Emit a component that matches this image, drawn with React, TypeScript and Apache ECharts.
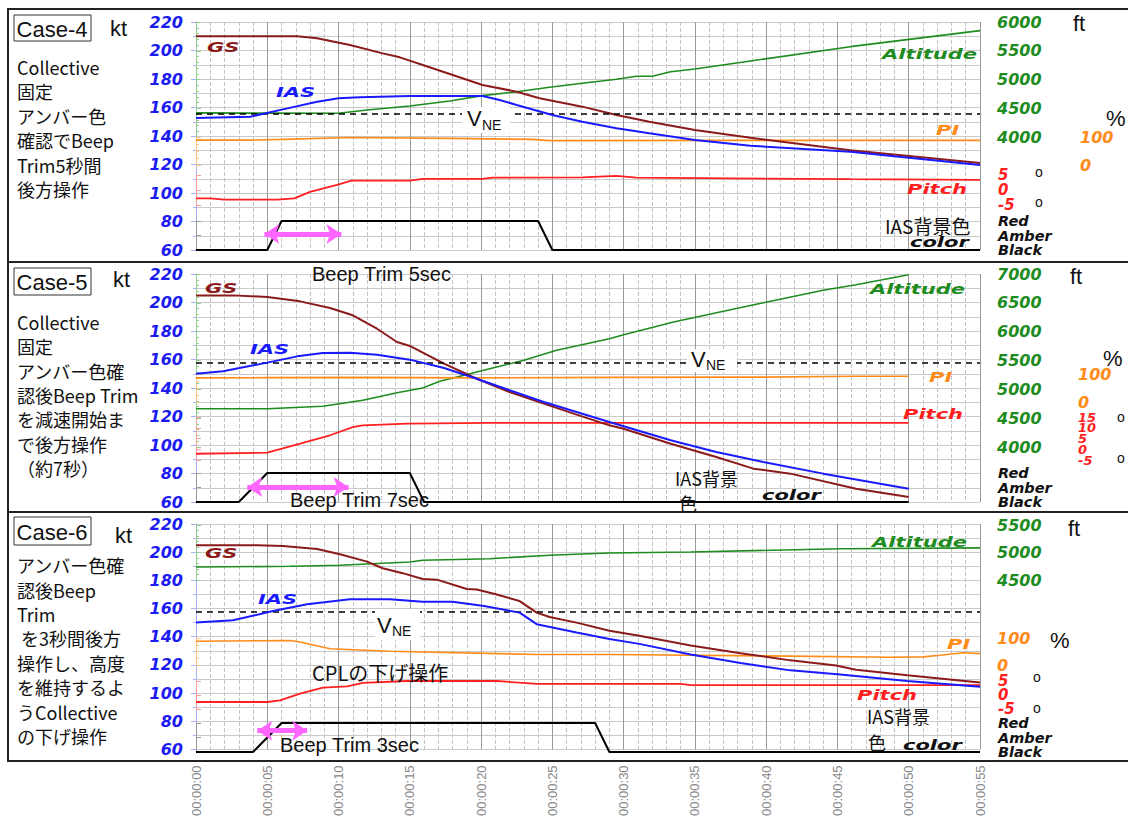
import React, { useEffect, useRef } from "react";
import * as echarts from "echarts";

// ---------- axes ----------
const TIME_MIN = 0;
const TIME_MAX = 55;
const TIME_STEP = 5;
const KT_MIN = 60;
const KT_MAX = 220;
const KT_STEP = 20;
const COLOR_LEVELS = ["Black", "Amber", "Red"];

// ---------- Case-4 ----------
const C4_GS_T = [0, 3.8, 7.1, 8.5, 10.8, 13.1, 14.3, 16.6, 20.1, 22.5, 24.1, 27.1, 29.5, 31.8, 35.0, 38.9, 45.9, 55];
const C4_GS = [210, 210, 210, 208.6, 203.9, 198, 195.2, 187.5, 175.8, 171.1, 166.5, 160.6, 154.7, 150, 144.2, 138.8, 130, 121];
const C4_IAS_T = [0, 3.8, 6.1, 8.5, 10, 11.5, 15, 20.1, 21.3, 22.5, 25, 27.1, 29.5, 31.8, 35, 38.9, 45.9, 55];
const C4_IAS = [152.6, 153.5, 158.7, 164.1, 166.5, 167.2, 168.1, 168.1, 165.3, 161.8, 154.7, 150, 145.4, 141.9, 137.2, 133.2, 129, 119.6];
const C4_ALT_T = [0, 3.8, 10, 12, 15, 17.8, 20.1, 22.5, 24.8, 27.1, 29.5, 30.9, 32, 33.3, 35, 38.9, 45.9, 55];
const C4_ALT = [4420, 4415, 4412, 4470, 4540, 4626, 4719, 4788, 4865, 4934, 5004, 5056, 5056, 5136, 5183, 5322, 5571, 5850];
const C4_PI_T = [0, 3.8, 6.1, 10.8, 17.8, 23.6, 24.8, 38.9, 55];
const C4_PI = [89, 89, 91.5, 98, 95, 91.5, 87, 88, 88];
const C4_PITCH_T = [0, 1, 2, 5.7, 6.9, 8.0, 9.9, 10.9, 15, 15.9, 20.1, 20.8, 27.1, 29.5, 30.9, 45.9, 55];
const C4_PITCH = [-2.8, -2.8, -3.2, -3.2, -2.8, -0.6, 1.7, 3.1, 3.1, 3.7, 3.7, 4.1, 4.2, 4.7, 4.1, 3.6, 3.4];
const C4_COLOR_T = [0, 5, 6, 24, 25, 55];
const C4_COLOR = ["Black", "Black", "Red", "Red", "Black", "Black"];

// ---------- Case-5 ----------
const C5_GS_T = [0, 2.6, 5.0, 7.3, 9.4, 11.0, 12.7, 14.1, 15.0, 17.4, 19.7, 22.0, 24.4, 26.7, 29.0, 30.0, 33.3, 36.5, 39.1, 41.7, 46.3, 50];
const C5_GS = [205, 205, 203.9, 200.8, 196.1, 191, 181.6, 172.3, 169.5, 157.1, 146.5, 137.2, 129, 121.3, 113.8, 111.4, 100.9, 91.6, 83.4, 79.9, 69.3, 63.5];
const C5_IAS_T = [0, 1.9, 5.0, 7.1, 8.9, 10.8, 12.7, 15.0, 17.4, 19.7, 22.0, 24.4, 26.7, 29.0, 33.3, 36.5, 39.8, 44, 50];
const C5_IAS = [150, 151.7, 157.8, 162.2, 164.6, 164.8, 163.4, 159.9, 154, 146.5, 138.4, 130.2, 123.2, 116.1, 103.3, 95.1, 88.1, 79.9, 69.3];
const C5_ALT_T = [0, 5, 8.9, 11.7, 14.1, 15.9, 17.1, 18.8, 20.6, 23, 25.3, 29, 30, 33.5, 37, 39.8, 44, 46.3, 50];
const C5_ALT = [4664, 4664, 4706, 4810, 4941, 5023, 5139, 5243, 5358, 5503, 5677, 5878, 5947, 6168, 6353, 6502, 6717, 6814, 6988];
const C5_PI_T = [0, 5, 12, 19, 29, 40, 46, 50];
const C5_PI = [86, 87, 88, 86, 88, 89, 92, 92];
const C5_PITCH_T = [0, 5, 7.3, 9.4, 11.0, 11.7, 14.8, 20.6, 50];
const C5_PITCH = [-2.1, -1.6, 2.6, 6.5, 10.3, 11.1, 11.9, 12.3, 12.3];
const C5_COLOR_T = [0, 3, 5, 15, 16, 50];
const C5_COLOR = ["Black", "Black", "Red", "Red", "Black", "Black"];

// ---------- Case-6 ----------
const C6_GS_T = [0, 4.3, 6.1, 8.5, 10.1, 12.0, 13.1, 14.5, 15.9, 16.9, 19.0, 19.7, 21.1, 22.7, 23.9, 24.8, 26.7, 29.0, 31.1, 34.7, 38.2, 41.7, 44.9, 46.3, 49.9, 55];
const C6_GS = [205, 205, 204.4, 202.2, 198.5, 193.3, 188.6, 185.1, 180.9, 180.5, 173.9, 173.5, 170, 165.3, 157.1, 154, 150, 144.2, 140.7, 133.7, 128.3, 123.2, 119.6, 116.6, 112.6, 107.5];
const C6_IAS_T = [0, 2.6, 5.4, 7.8, 10.8, 13.6, 15.9, 18.0, 20.2, 22.7, 23.9, 26.7, 29.0, 31.1, 34.7, 38.2, 41.7, 45.2, 49.9, 55];
const C6_IAS = [150, 151.7, 158.2, 163, 166.5, 166.5, 164.8, 164.8, 161.8, 157.1, 148.9, 143, 138.4, 134.9, 127.4, 121.3, 116.1, 113.1, 108.6, 104.4];
const C6_ALT_T = [0, 6.6, 10.1, 15, 15.9, 20.6, 24.8, 29, 34.7, 45.2, 55];
const C6_ALT = [4736, 4749, 4767, 4827, 4858, 4887, 4949, 4990, 5009, 5069, 5085];
const C6_PI_T = [0, 6.6, 7.3, 9.4, 13.6, 23.9, 29, 41.7, 48.7, 51, 52.2, 53.8, 55];
const C6_PI = [88, 91, 85, 60, 51, 39, 39, 33, 28.5, 30, 36, 45.6, 42];
const C6_PITCH_T = [0, 5, 5.9, 7.3, 8.9, 10.6, 11.7, 14.8, 21.1, 23.9, 34, 34.7, 55];
const C6_PITCH = [-2.5, -2.5, -1.9, 0.5, 2.6, 3.1, 4.3, 5.0, 5.0, 4.0, 4.0, 3.5, 3.5];
const C6_COLOR_T = [0, 4, 6, 28, 29, 55];
const C6_COLOR = ["Black", "Black", "Red", "Red", "Black", "Black"];

// V_NE (kt) and Beep-trim arrows (start s, end s, kt level)
const VNE = [155.5, 157.5, 157.5];
const ARROWS = [
  [4.8, 10.2, 71.2],
  [3.6, 10.7, 70.5],
  [4.3, 7.8, 73.3],
];

// right-axis ranges and tick labels
const ALT_RANGES = [[4000, 6000], [4000, 7000], [4500, 5500]];
const PI_RANGE = [0, 100];
const PITCH_RANGES = [[-5, 5], [-5, 15], [-5, 5]];
const PITCH_TICKS = [["-5", "0", "5"], ["-5", "0", "5", "10", "15"], ["-5", "0", "5"]];

const zip = (t: number[], v: any[]) => t.map((x, i) => [x, v[i]]);
const pad2 = (n: number) => (n < 10 ? "0" : "") + n;

const CASES = [
  {
    gs: zip(C4_GS_T, C4_GS), ias: zip(C4_IAS_T, C4_IAS), alt: zip(C4_ALT_T, C4_ALT),
    pi: zip(C4_PI_T, C4_PI), pitch: zip(C4_PITCH_T, C4_PITCH), color: zip(C4_COLOR_T, C4_COLOR),
  },
  {
    gs: zip(C5_GS_T, C5_GS), ias: zip(C5_IAS_T, C5_IAS), alt: zip(C5_ALT_T, C5_ALT),
    pi: zip(C5_PI_T, C5_PI), pitch: zip(C5_PITCH_T, C5_PITCH), color: zip(C5_COLOR_T, C5_COLOR),
  },
  {
    gs: zip(C6_GS_T, C6_GS), ias: zip(C6_IAS_T, C6_IAS), alt: zip(C6_ALT_T, C6_ALT),
    pi: zip(C6_PI_T, C6_PI), pitch: zip(C6_PITCH_T, C6_PITCH), color: zip(C6_COLOR_T, C6_COLOR),
  },
];

// layout: [top, height, axisOffset]
const LAYOUT = [
  { top: 22, alt: [22, 115, 7], pi: [137, 28, 90], pitch: [175, 30, 8], color: [221, 29, 8] },
  { top: 274, alt: [274, 173, 7], pi: [374, 28, 88], pitch: [417, 43, 88], color: [473, 29, 8] },
  { top: 524, alt: [525, 55, 7], pi: [638, 27, 7], pitch: [681, 28, 8], color: [723, 29, 8] },
];

const C_GS = "#8b1a1a";
const C_IAS = "#1a1aff";
const C_ALT = "#1e8c1e";
const C_PI = "#ff8c1a";
const C_PITCH = "#ff1f1f";
const C_KT_LABEL = "#1c1cf0";
const C_PINK = "#ff66ff";

const AXIS_FONT = { fontSize: 16, fontWeight: "bold", fontStyle: "italic", fontFamily: "DejaVu Sans" };

function buildOption() {
  const grid: any[] = [];
  const xAxis: any[] = [];
  const yAxis: any[] = [];
  const series: any[] = [];
  const GL = 196;
  const GR = 148;

  LAYOUT.forEach((L, p) => {
    const gb = grid.length;
    const d = CASES[p];
    grid.push({ left: GL, right: GR, top: L.top, height: 228 });
    [L.alt, L.pi, L.pitch, L.color].forEach((s) => grid.push({ left: GL, right: GR, top: s[0], height: s[1] }));

    xAxis.push({
      type: "value", gridIndex: gb, min: TIME_MIN, max: TIME_MAX, interval: TIME_STEP,
      axisLine: { show: false }, axisTick: { show: false },
      minorTick: { show: false, splitNumber: 5 },
      splitLine: { show: true, lineStyle: { color: "#9a9a9a", width: 1 } },
      minorSplitLine: { show: true, lineStyle: { color: "#c4c4c4", width: 1, type: [4, 2] } },
      axisLabel: p === 2
        ? { show: true, rotate: 90, margin: 16, color: "#888", fontSize: 13, fontFamily: "Liberation Sans",
            showMinLabel: true, showMaxLabel: true, formatter: (v: number) => "00:00:" + pad2(v) }
        : { show: false },
    });
    for (let k = 1; k <= 4; k++) {
      xAxis.push({ type: "value", gridIndex: gb + k, min: TIME_MIN, max: TIME_MAX, show: false });
    }

    const yKt = yAxis.length;
    yAxis.push({
      type: "value", gridIndex: gb, position: "left", offset: 6, min: KT_MIN, max: KT_MAX, interval: KT_STEP,
      axisLine: { show: true, lineStyle: { color: "#aab0ff" } },
      axisTick: { show: true, length: 5, lineStyle: { color: "#aab0ff" } },
      minorTick: { show: true, splitNumber: 2, length: 3, lineStyle: { color: "#aab0ff" } },
      splitLine: { show: true, lineStyle: { color: "#cacaca" } },
      minorSplitLine: { show: true, lineStyle: { color: "#cacaca" } },
      axisLabel: { color: C_KT_LABEL, margin: 7, showMinLabel: true, showMaxLabel: true, ...AXIS_FONT },
    });
    const right = (gi: number, min: number, max: number, interval: number, color: string, lineColor: string,
      minor: number, offset: number, labelShow: boolean) => ({
      type: "value", gridIndex: gi, position: "right", offset, min, max, interval,
      axisLine: { show: true, lineStyle: { color: lineColor } },
      axisTick: { show: true, length: 5, lineStyle: { color: lineColor } },
      minorTick: { show: minor > 0, splitNumber: minor || 5, length: 3, lineStyle: { color: lineColor } },
      splitLine: { show: false },
      axisLabel: { show: labelShow, color, margin: 10, formatter: (v: number) => String(v), ...AXIS_FONT },
    });
    const labelsAxis = (gi: number, data: string[], color: string, lineColor: string, offset: number, font: any, showLine: boolean) => ({
      type: "category", gridIndex: gi, position: "right", offset, data, boundaryGap: false,
      axisLine: { show: showLine, lineStyle: { color: lineColor } },
      axisTick: { show: showLine, length: 5, lineStyle: { color: lineColor } },
      splitLine: { show: false },
      axisLabel: { show: true, interval: 0, color, margin: 10, ...AXIS_FONT, ...font },
    });

    const yAlt = yAxis.length;
    yAxis.push(right(gb + 1, ALT_RANGES[p][0], ALT_RANGES[p][1], 500, C_ALT, "#8fcf8f", 5, L.alt[2], true));
    const yPi = yAxis.length;
    yAxis.push(right(gb + 2, PI_RANGE[0], PI_RANGE[1], 100, C_PI, "#ffc080", 4, L.pi[2], true));
    const yPitch = yAxis.length;
    yAxis.push(right(gb + 3, PITCH_RANGES[p][0], PITCH_RANGES[p][1], 5, C_PITCH, "#ff9a9a", 0, L.pitch[2], false));
    yAxis.push(labelsAxis(gb + 3, PITCH_TICKS[p], C_PITCH, "#ff9a9a", L.pitch[2], { fontSize: p === 1 ? 13 : 15 }, false));
    const yColor = yAxis.length;
    yAxis.push(labelsAxis(gb + 4, COLOR_LEVELS, "#111", "#999", L.color[2], { fontSize: 14.5 }, true));

    const line = (name: string, xi: number, yi: number, data: any[], color: string, width: number, extra: any = {}) => ({
      type: "line", name, xAxisIndex: xi, yAxisIndex: yi, data, showSymbol: false, symbol: "none",
      lineStyle: { color, width }, itemStyle: { color }, clip: false, silent: true, ...extra,
    });
    const a = ARROWS[p];
    series.push(line("GS", gb, yKt, d.gs, C_GS, 2, {
      z: 4,
      markLine: {
        silent: true, symbol: ["arrow", "arrow"], symbolSize: 15, label: { show: false },
        lineStyle: { color: C_PINK, width: 5, type: "solid" },
        data: [[{ coord: [a[0], a[2]] }, { coord: [a[1], a[2]] }]],
      },
    }));
    series.push(line("IAS", gb, yKt, d.ias, C_IAS, 2, {
      z: 5,
      markLine: {
        silent: true, symbol: ["none", "none"], label: { show: false },
        lineStyle: { color: "#000", type: [6, 5], width: 1.6 },
        data: [{ yAxis: VNE[p] }],
      },
    }));
    series.push(line("Altitude", gb + 1, yAlt, d.alt, C_ALT, 1.6));
    series.push(line("PI", gb + 2, yPi, d.pi, C_PI, 1.6));
    series.push(line("Pitch", gb + 3, yPitch, d.pitch, C_PITCH, 1.8));
    series.push(line("IAS color", gb + 4, yColor, d.color, "#000", 2));
  });

  // ---------- graphic annotations ----------
  const g: any[] = [];
  const txt = (x: number, y: number, text: string, style: any, extra: any = {}) =>
    g.push({ type: "text", x, y, z: 20, ...extra, style: { text, align: "left", verticalAlign: "middle", ...style } });
  const plain = (size: number) => ({ fontSize: size, fontFamily: "Liberation Sans", fill: "#111" });
  const jp = (size: number) => ({ fontSize: size, fontFamily: "Noto Sans CJK JP", fill: "#111" });
  const bi = (size: number, fill: string) => ({ fontSize: size, fontFamily: "DejaVu Sans", fontWeight: "bold", fontStyle: "italic", fill });

  // frames
  [[9, 253], [262, 250], [512, 249]].forEach(([y, h]) =>
    g.push({ type: "rect", z: 1, shape: { x: 8, y, width: 1135, height: h }, style: { fill: "none", stroke: "#222", lineWidth: 2 } }));
  // case boxes
  [["Case-4", 15, 26], ["Case-5", 268, 27], ["Case-6", 517, 28]].forEach(([t, y, h]: any) => {
    g.push({ type: "rect", z: 20, shape: { x: 14, y, width: 77, height: h }, style: { fill: "none", stroke: "#333", lineWidth: 1 } });
    txt(52, y + h / 2 + 1, t, { ...plain(22), align: "center" });
  });
  // kt / ft / % / degrees
  [[110, 28], [113, 279], [115, 535]].forEach(([x, y]) => txt(x, y, "kt", plain(22)));
  [[1073, 23], [1070, 276], [1068, 528]].forEach(([x, y]) => txt(x, y, "ft", plain(22)));
  [[1106, 118], [1103, 358], [1050, 640]].forEach(([x, y]) => txt(x, y, "%", plain(22)));
  [[1039, 172], [1039, 202], [1121, 417], [1121, 458], [1037, 677], [1037, 708]].forEach(([x, y]) =>
    txt(x, y, "o", { ...plain(14), align: "center" }));

  // description texts
  const desc = [
    [54.8, "Collective\n固定\nアンバー色\n確認でBeep\nTrim5秒間\n後方操作"],
    [309.5, "Collective\n固定\nアンバー色確\n認後Beep Trim\nを減速開始ま\nで後方操作\n（約7秒）"],
    [553, "アンバー色確\n認後Beep\nTrim\n を3秒間後方\n操作し、高度\nを維持するよ\nうCollective\nの下げ操作"],
  ];
  desc.forEach(([y, t]: any) =>
    g.push({ type: "text", x: 17, y, z: 20, style: { text: t, ...jp(18), lineHeight: 24.4, align: "left", verticalAlign: "top" } }));

  // V_NE boxes
  const vne = [
    { r: [462, 107, 48, 26], v: [467, 118.5], ne: [482, 125] },
    { r: [687, 349, 50, 23], v: [691, 359.5], ne: [706, 365] },
    { r: [375, 609, 45, 31], v: [377, 625.5], ne: [392, 631] },
  ];
  vne.forEach((b) => {
    g.push({ type: "rect", z: 15, shape: { x: b.r[0], y: b.r[1], width: b.r[2], height: b.r[3] }, style: { fill: "#fff" } });
    txt(b.v[0], b.v[1], "V", plain(22));
    txt(b.ne[0], b.ne[1], "NE", plain(14));
  });

  // series labels
  const SX = { scaleX: 1.45 };
  const labels: any[] = [
    [207, 47, "GS", C_GS], [276, 92, "IAS", C_IAS], [882, 54, "Altitude", C_ALT], [936, 130, "PI", C_PI], [907, 189, "Pitch", C_PITCH],
    [205, 288, "GS", C_GS], [250, 349, "IAS", C_IAS], [870, 289, "Altitude", C_ALT], [929, 377, "PI", C_PI], [903, 414, "Pitch", C_PITCH],
    [205, 553, "GS", C_GS], [258, 599, "IAS", C_IAS], [872, 542, "Altitude", C_ALT], [947, 644, "PI", C_PI], [857, 695, "Pitch", C_PITCH],
  ];
  labels.forEach(([x, y, t, c]) => txt(x, y, t, bi(14.5, c), SX));

  // IAS background colour labels
  txt(885, 225, "IAS背景色", jp(19));
  txt(910, 242, "color", bi(14, "#111"), { scaleX: 1.5 });
  txt(675, 478, "IAS背景", jp(18));
  txt(679, 503, "色", jp(18));
  txt(762, 495, "color", bi(14, "#111"), { scaleX: 1.5 });
  txt(867, 716, "IAS背景", jp(18));
  txt(868, 742, "色", jp(18));
  txt(903, 745, "color", bi(14, "#111"), { scaleX: 1.5 });

  // Beep trim notes
  txt(312, 274, "Beep Trim 5sec", plain(20));
  txt(290, 500, "Beep Trim 7sec", plain(20));
  txt(280, 745, "Beep Trim 3sec", plain(20));
  txt(312, 672, "CPLの下げ操作", jp(20));

  return {
    animation: false,
    backgroundColor: "#fff",
    grid, xAxis, yAxis, series,
    graphic: { elements: g },
  };
}

export default function App() {
  const ref = useRef<HTMLDivElement>(null);
  useEffect(() => {
    document.body.style.margin = "0";
    if (!ref.current) return;
    const chart = echarts.init(ref.current, undefined, { renderer: "svg" });
    chart.setOption(buildOption() as any);
    return () => chart.dispose();
  }, []);
  return <div ref={ref} style={{ width: 1128, height: 819 }} />;
}
